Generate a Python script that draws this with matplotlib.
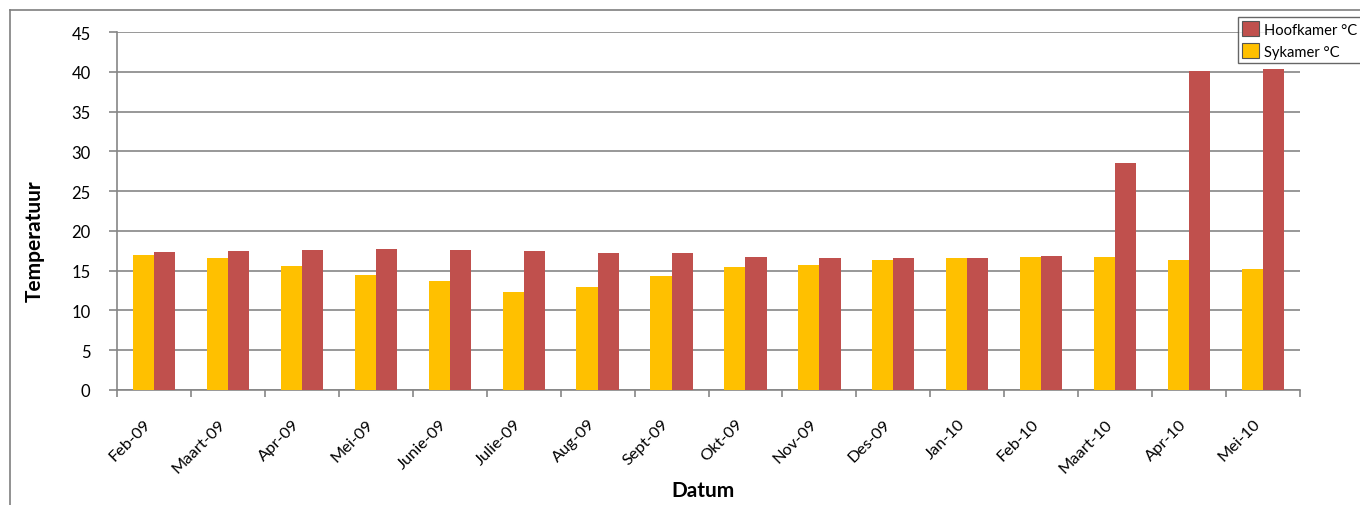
import matplotlib
matplotlib.use("Agg")
import matplotlib.pyplot as plt
import numpy as np
from matplotlib.lines import Line2D

categories = ["Feb-09", "Maart-09", "Apr-09", "Mei-09", "Junie-09", "Julie-09",
              "Aug-09", "Sept-09", "Okt-09", "Nov-09", "Des-09", "Jan-10",
              "Feb-10", "Maart-10", "Apr-10", "Mei-10"]
sykamer = [17.0, 16.6, 15.6, 14.5, 13.7, 12.3, 13.0, 14.3, 15.4, 15.75, 16.3, 16.6,
           16.75, 16.7, 16.3, 15.2]
hoofkamer = [17.3, 17.5, 17.65, 17.7, 17.65, 17.5, 17.25, 17.2, 16.75, 16.65, 16.65, 16.65,
             16.9, 28.5, 40.1, 40.3]
yticks = [0, 5, 10, 15, 20, 25, 30, 35, 40, 45]

plt.rcParams['font.family'] = ['Lato', 'DejaVu Sans']

W, H = 1360, 506
fig = plt.figure(figsize=(W / 100, H / 100), dpi=100)
ax = fig.add_axes([117 / W, 1 - 391 / H, (1300 - 117) / W, (391 - 33) / H])

grid_c = '#868686'
yellow = '#FFC000'
red = '#C0504D'

x = np.arange(len(categories))
bw = 1 / 3.5
ax.bar(x - bw / 2, sykamer, width=bw, color=yellow, label='Sykamer °C', zorder=3)
ax.bar(x + bw / 2, hoofkamer, width=bw, color=red, label='Hoofkamer °C', zorder=3)

ax.set_xlim(-0.5, len(categories) - 0.5)
ax.set_ylim(0, 45)
ax.set_yticks(yticks)
ax.yaxis.grid(True, color=grid_c, linewidth=1.2, zorder=0)
ax.set_axisbelow(True)

for s in ['top', 'right']:
    ax.spines[s].set_visible(False)
for s in ['left', 'bottom']:
    ax.spines[s].set_color(grid_c)
    ax.spines[s].set_linewidth(1.2)

ax.set_xticks(np.arange(len(categories) + 1) - 0.5)
ax.set_xticklabels([])
ax.set_xticks(x, minor=True)
ax.set_xticklabels(categories, minor=True, rotation=45, ha='right', va='top',
                   fontsize=11.8)
ax.tick_params(axis='x', which='major', length=5, width=1.2, color=grid_c, direction='out')
ax.tick_params(axis='x', which='minor', length=0, pad=19)
ax.tick_params(axis='y', length=6, width=1.2, color=grid_c, labelsize=12, pad=13)

ax.set_ylabel('Temperatuur', fontsize=15, fontweight='bold')
ax.yaxis.set_label_coords((35 - 117) / 1183, (391 - 241) / 358)
ax.set_xlabel('Datum', fontsize=15, fontweight='bold')
ax.xaxis.set_label_coords((703 - 117) / 1183, -(491 - 391) / 358)
ax.xaxis.label.set_va('center')
ax.yaxis.label.set_va('center')

handles, labels = ax.get_legend_handles_labels()
leg = fig.legend(handles[::-1], labels[::-1], loc='upper left',
                 bbox_to_anchor=(1238 / W, 1 - 18 / H), frameon=True, fontsize=10.6,
                 fancybox=False, borderpad=0.3, handlelength=1.15, handleheight=1.15,
                 handletextpad=0.3, labelspacing=0.45, borderaxespad=0)
leg.get_frame().set_edgecolor('#404040')
leg.get_frame().set_linewidth(1.0)
for p in leg.get_patches():
    p.set_edgecolor('#555555')
    p.set_linewidth(0.8)

frame_c = '#7f7f7f'
fig.add_artist(Line2D([10 / W, 10 / W], [0, 1 - 10.5 / H], transform=fig.transFigure,
                      color=frame_c, linewidth=1.2))
fig.add_artist(Line2D([10 / W, 1], [1 - 10.5 / H, 1 - 10.5 / H], transform=fig.transFigure,
                      color=frame_c, linewidth=1.2))

fig.savefig('out.png', dpi=100)
